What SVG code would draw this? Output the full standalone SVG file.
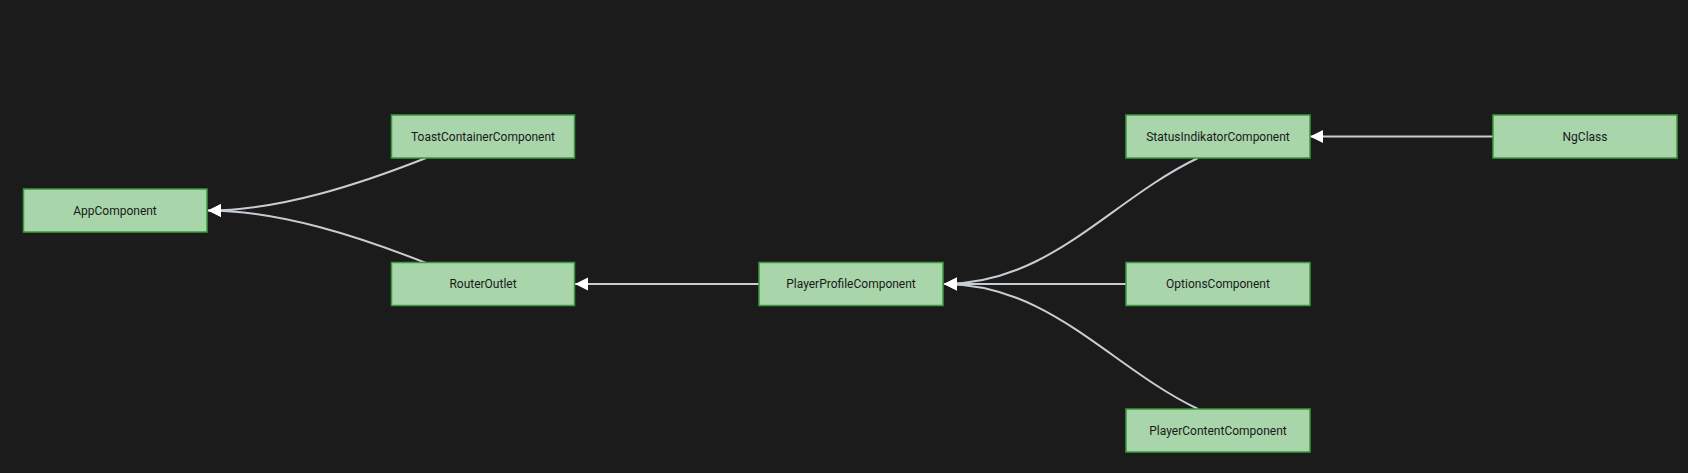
<svg xmlns="http://www.w3.org/2000/svg" width="1688" height="473" viewBox="0 0 1688 473">
<style>
.node rect{fill:#a8d5aa;stroke:#3c9a3c;stroke-width:1.5}
.node text{font-family:Roboto,"Liberation Sans",sans-serif;font-size:12px;fill:#1a1a1a;text-anchor:middle;dominant-baseline:central}
.edge{fill:none;stroke:#c8ccd4;stroke-width:2;marker-end:url(#arrow)}
</style>
<defs>
<marker id="arrow" markerUnits="userSpaceOnUse" markerWidth="14" markerHeight="14" refX="13" refY="6.5" orient="auto">
<path d="M0,0 L13,6.5 L0,13 Z" fill="#ffffff"/>
</marker>
</defs>
<rect x="0" y="0" width="1688" height="473" fill="#1b1b1b"/>
<g id="connectors">
<path class="edge" d="M426,158 C360,184 280,210.5 208,210.5"/>
<path class="edge" d="M426,263 C360,237 280,210.5 208,210.5"/>
<path class="edge" d="M759,284 L575,284"/>
<path class="edge" d="M1198,158 C1110,200 1050,284 944,284"/>
<path class="edge" d="M1126,284 L944,284"/>
<path class="edge" d="M1198,409 C1110,367 1050,284 944,284"/>
<path class="edge" d="M1493,136.5 L1310,136.5"/>
</g>
<g id="AppComponent" class="node"><rect x="23.5" y="189" width="183.5" height="43"/><text x="115" y="210.5">AppComponent</text></g>
<g id="ToastContainerComponent" class="node"><rect x="391.5" y="115" width="183" height="43"/><text x="483" y="136.5">ToastContainerComponent</text></g>
<g id="RouterOutlet" class="node"><rect x="391.5" y="262.5" width="183" height="43"/><text x="483" y="284">RouterOutlet</text></g>
<g id="PlayerProfileComponent" class="node"><rect x="759" y="262.5" width="184" height="43"/><text x="851" y="284">PlayerProfileComponent</text></g>
<g id="StatusIndikatorComponent" class="node"><rect x="1126" y="115" width="184" height="43"/><text x="1218" y="136.5">StatusIndikatorComponent</text></g>
<g id="OptionsComponent" class="node"><rect x="1126" y="262.5" width="184" height="43"/><text x="1218" y="284">OptionsComponent</text></g>
<g id="PlayerContentComponent" class="node"><rect x="1126" y="409" width="184" height="43"/><text x="1218" y="430.5">PlayerContentComponent</text></g>
<g id="NgClass" class="node"><rect x="1493" y="115" width="184" height="43"/><text x="1585" y="136.5">NgClass</text></g>
</svg>
